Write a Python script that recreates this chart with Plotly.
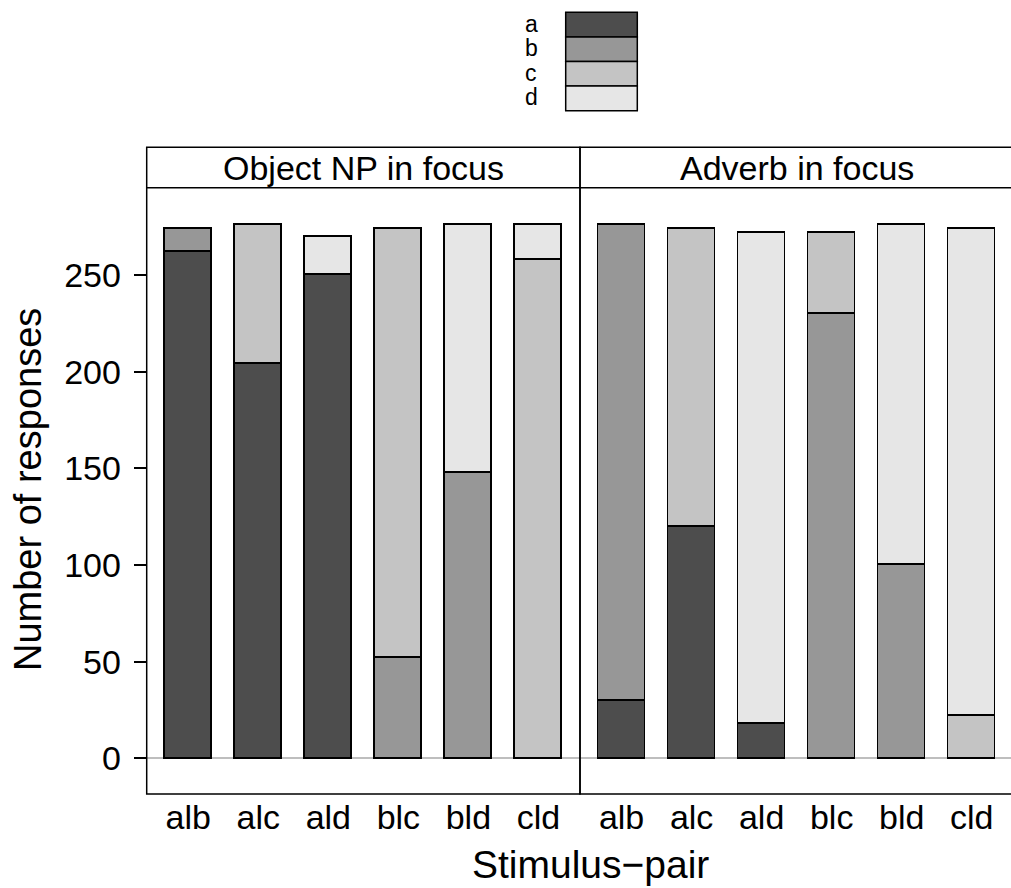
import plotly.graph_objects as go

# ---- data -------------------------------------------------------------
pairs = ["alb", "alc", "ald", "blc", "bld", "cld"]
panels = ["Object NP in focus", "Adverb in focus"]
responses = ["a", "b", "c", "d"]
colors = ["#4D4D4D", "#979797", "#C4C4C4", "#E6E6E6"]

# counts per response for each stimulus pair (None = response not offered)
object_np = {
    "a": [262, 204, 250, None, None, None],
    "b": [12, None, None, 52, 148, None],
    "c": [None, 72, None, 222, None, 258],
    "d": [None, None, 20, None, 128, 18],
}
adverb = {
    "a": [30, 120, 18, None, None, None],
    "b": [246, None, None, 230, 100, None],
    "c": [None, 154, None, 42, None, 22],
    "d": [None, None, 254, None, 176, 252],
}
panel_data = [object_np, adverb]

y_ticks = [0, 50, 100, 150, 200, 250]

# ---- geometry helpers (pixels -> paper) -------------------------------
W, H = 1011, 888
def px(x):
    return x / W
def py(y):
    return 1 - y / H

left, mid, right = 146.7, 580.0, 1013.3
strip_top, strip_bot, panel_bot = 147.3, 187.7, 794.0

FONT = "Liberation Sans, Arial, Helvetica, sans-serif"

fig = go.Figure()

axes = [("x", "y"), ("x2", "y2")]
for p, data in enumerate(panel_data):
    xa, ya = axes[p]
    for r, col in zip(responses, colors):
        fig.add_trace(go.Bar(
            x=pairs, y=data[r], name=r, xaxis=xa, yaxis=ya,
            marker=dict(color=col, line=dict(color="black", width=1.5)),
            width=0.667, showlegend=False,
        ))

yrange = [-18.5, 295.2]
common_x = dict(type="category", showgrid=False, zeroline=False, showline=False,
                ticks="", tickfont=dict(family=FONT, size=34, color="black"),
                fixedrange=True)
fig.update_layout(
    width=W, height=H,
    margin=dict(l=0, r=0, t=0, b=0),
    paper_bgcolor="white", plot_bgcolor="white",
    barmode="stack",
    bargap=0,
    xaxis=dict(domain=[px(left), px(mid)], range=[-0.594, 5.594], **common_x),
    xaxis2=dict(domain=[px(mid), 1.0], range=[-0.594, 5.561], **common_x),
    yaxis=dict(domain=[py(panel_bot), py(strip_bot)], range=yrange,
               tickvals=y_ticks, ticks="outside", ticklen=12, tickwidth=1.5,
               tickcolor="black", showgrid=False, showline=False,
               zeroline=True, zerolinecolor="#BEBEBE", zerolinewidth=1.5,
               tickfont=dict(family=FONT, size=34, color="black"),
               ticklabelstandoff=6,
               anchor="x", fixedrange=True),
    yaxis2=dict(domain=[py(panel_bot), py(strip_bot)], range=yrange,
                showticklabels=False, ticks="", showgrid=False, showline=False,
                zeroline=True, zerolinecolor="#BEBEBE", zerolinewidth=1.5,
                anchor="x2", fixedrange=True),
)

line = dict(color="black", width=1.5)
shapes = []
# panel frames and strips
for x0, x1 in [(left, mid), (mid, right)]:
    shapes.append(dict(type="rect", xref="paper", yref="paper",
                       x0=px(x0), x1=px(x1), y0=py(panel_bot), y1=py(strip_top),
                       line=line, fillcolor="rgba(0,0,0,0)", layer="above"))
    shapes.append(dict(type="line", xref="paper", yref="paper",
                       x0=px(x0), x1=px(x1), y0=py(strip_bot), y1=py(strip_bot),
                       line=line, layer="above"))

annotations = []
for p, title in enumerate(panels):
    x0, x1 = [(left, mid), (mid, right)][p]
    annotations.append(dict(text=title, xref="paper", yref="paper",
                            x=px((x0 + x1) / 2), y=py((strip_top + strip_bot) / 2),
                            showarrow=False, xanchor="center", yanchor="middle",
                            font=dict(family=FONT, size=34, color="black")))

# key at the top
key_x0, key_x1, key_top, key_h = 565.7, 637.3, 12.3, 24.6
for i, (r, col) in enumerate(zip(responses, colors)):
    y0 = key_top + i * key_h
    shapes.append(dict(type="rect", xref="paper", yref="paper",
                       x0=px(key_x0), x1=px(key_x1), y0=py(y0 + key_h), y1=py(y0),
                       line=line, fillcolor=col))
    annotations.append(dict(text=r, xref="paper", yref="paper",
                            x=px(531), y=py(y0 + key_h / 2 - 1),
                            showarrow=False, xanchor="center", yanchor="middle",
                            font=dict(family=FONT, size=23, color="black")))

# axis titles
annotations.append(dict(text="Stimulus\u2212pair", xref="paper", yref="paper",
                        x=px(590), y=py(864), showarrow=False,
                        xanchor="center", yanchor="middle",
                        font=dict(family=FONT, size=39, color="black")))
annotations.append(dict(text="Number of responses", xref="paper", yref="paper",
                        x=px(28), y=py(490), showarrow=False, textangle=-90,
                        xanchor="center", yanchor="middle",
                        font=dict(family=FONT, size=38, color="black")))

fig.update_layout(shapes=shapes, annotations=annotations)
fig.write_html("out.html")
